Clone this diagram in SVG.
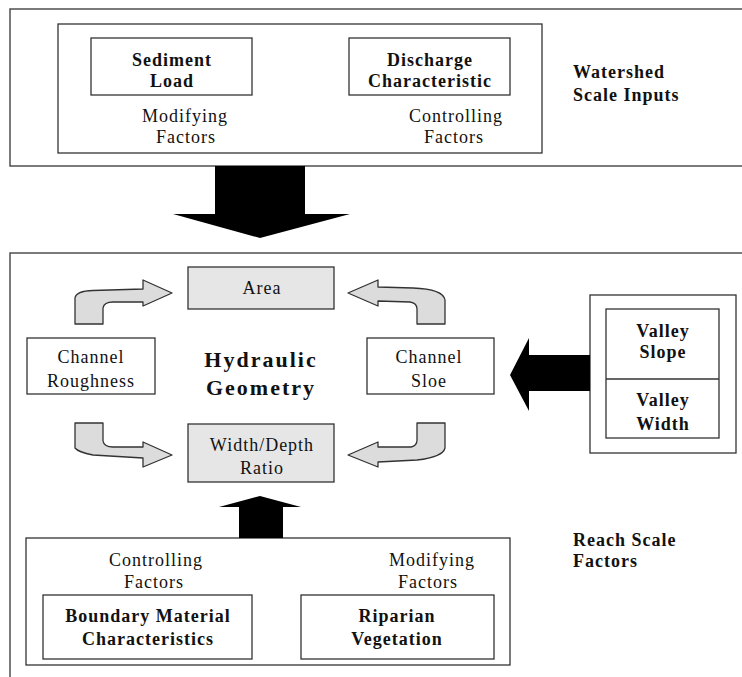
<svg xmlns="http://www.w3.org/2000/svg" width="742" height="677" viewBox="0 0 742 677">
<style>
.frame{fill:#fff;stroke:#444;stroke-width:1.4}
.box{fill:#fff;stroke:#333;stroke-width:1.3}
.gbox{fill:#e6e6e6;stroke:#333;stroke-width:1.3}
.carrow{fill:#dcdcdc;stroke:#333;stroke-width:1.3;stroke-linejoin:round}
.barrow{fill:#000;stroke:none}
text{font-family:"Liberation Serif","Times New Roman",serif;font-size:18px;fill:#111;letter-spacing:1px}
.c{text-anchor:middle}
.b{font-weight:bold}
.big{font-size:22px;letter-spacing:2px}
</style>
<rect width="742" height="677" fill="#fff"/>
<g id="watershed-frame">
<rect class="frame" x="10" y="9" width="745" height="157"/>
<rect class="box" x="58" y="24" width="484" height="129"/>
<text class="b" x="573" y="78">Watershed</text>
<text class="b" x="573" y="101">Scale Inputs</text>
</g>
<g id="sediment-load">
<rect class="box" x="91" y="38" width="161" height="57"/>
<text class="c b" x="172" y="66">Sediment</text>
<text class="c b" x="172" y="87">Load</text>
<text class="c" x="185" y="122">Modifying</text>
<text class="c" x="186" y="143">Factors</text>
</g>
<g id="discharge">
<rect class="box" x="349" y="38" width="161" height="57"/>
<text class="c b" x="430" y="66">Discharge</text>
<text class="c b" x="430" y="87">Characteristic</text>
<text class="c" x="456" y="122">Controlling</text>
<text class="c" x="454" y="143">Factors</text>
</g>
<g id="reach-frame">
<rect class="frame" x="10" y="253" width="745" height="440"/>
<text class="b" x="573" y="546">Reach Scale</text>
<text class="b" x="573" y="567">Factors</text>
</g>
<g id="area">
<rect class="gbox" x="188" y="267" width="146" height="42"/>
<text class="c" x="262" y="294">Area</text>
</g>
<g id="channel-roughness">
<rect class="box" x="27" y="338" width="128" height="56"/>
<text class="c" x="91" y="363">Channel</text>
<text class="c" x="91" y="387">Roughness</text>
</g>
<g id="hydraulic-geometry">
<text class="c b big" x="261" y="367">Hydraulic</text>
<text class="c b big" x="261" y="395">Geometry</text>
</g>
<g id="channel-slope">
<rect class="box" x="367" y="338" width="127" height="56"/>
<text class="c" x="429" y="363">Channel</text>
<text class="c" x="429" y="387">Sloe</text>
</g>
<g id="width-depth">
<rect class="gbox" x="188" y="424" width="146" height="58"/>
<text class="c" x="262" y="451">Width/Depth</text>
<text class="c" x="262" y="474">Ratio</text>
</g>
<g id="valley">
<rect class="box" x="590" y="295" width="146" height="158"/>
<rect class="box" x="606" y="309" width="113" height="129"/>
<line x1="606" y1="379" x2="719" y2="379" stroke="#333" stroke-width="1.3"/>
<text class="c b" x="663" y="337">Valley</text>
<text class="c b" x="663" y="358">Slope</text>
<text class="c b" x="663" y="406">Valley</text>
<text class="c b" x="663" y="430">Width</text>
</g>
<g id="reach-inputs">
<rect class="box" x="26" y="538" width="484" height="127"/>
<text class="c" x="156" y="566">Controlling</text>
<text class="c" x="154" y="588">Factors</text>
<text class="c" x="432" y="566">Modifying</text>
<text class="c" x="428" y="588">Factors</text>
</g>
<g id="boundary-material">
<rect class="box" x="43" y="595" width="209" height="64"/>
<text class="c b" x="148" y="622">Boundary Material</text>
<text class="c b" x="148" y="645">Characteristics</text>
</g>
<g id="riparian">
<rect class="box" x="301" y="595" width="193" height="64"/>
<text class="c b" x="397" y="622">Riparian</text>
<text class="c b" x="397" y="645">Vegetation</text>
</g>
<g id="connectors">
<polygon class="barrow" points="215,166 305,166 305,214 350,214 260,238 173,214 215,214"/>
<polygon class="barrow" points="239,538 283,538 283,507 301,507 260,496 219,507 239,507"/>
<polygon class="barrow" points="590,355 590,391 529,391 529,411 510,375 529,338 529,355"/>
<path class="carrow" d="M75 324 L75 298 Q76 291 93 290.5 L143 289 L143 280 L172 293 L143 306 L143 302 L113 302 Q104 302 103 308 L103 324 Z"/>
<path class="carrow" d="M445 324 L445 300 Q443 289 413 288 L378 287 L378 280 L348 293 L378 306 L378 301 L410 302 Q417 303 417 309 L417 324 Z"/>
<path class="carrow" d="M75 423 L103 423 L103 441 Q104 447 113 447 L143 447 L143 442 L172 455 L143 467 L143 458 L93 455 Q78 452 75 448 Z"/>
<path class="carrow" d="M445 423 L445 448 Q443 457 417 460 L378 462 L378 467 L348 455 L378 442 L378 447 L411 447 Q417 446 417 440 L417 423 Z"/>
</g>
</svg>
